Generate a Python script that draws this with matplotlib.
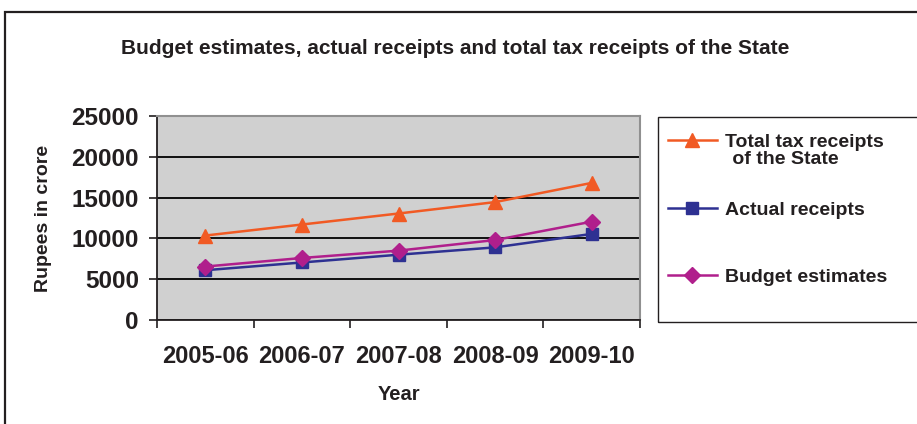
import matplotlib
matplotlib.use("Agg")
import matplotlib.pyplot as plt
from matplotlib.patches import Rectangle

years = ["2005-06", "2006-07", "2007-08", "2008-09", "2009-10"]
total_tax = [10350, 11700, 13050, 14450, 16800]
actual = [6100, 7050, 8000, 8900, 10550]
budget = [6550, 7600, 8500, 9800, 12050]
yticks = [0, 5000, 10000, 15000, 20000, 25000]

plt.rcParams['font.family'] = ['Liberation Sans', 'DejaVu Sans']
plt.rcParams['font.weight'] = 'bold'

W, H = 917, 424
fig = plt.figure(figsize=(W/100, H/100), dpi=100)

# outer frame (cut off right/bottom)
fig.add_artist(Rectangle((5/W, -0.1), 2, 1.1 - 12/H, transform=fig.transFigure,
                         fill=False, edgecolor='#231F20', linewidth=1.6))

ax = fig.add_axes([157/W, 1-320/H, (640-157)/W, (320-116)/H])
ax.set_facecolor('#D0D0D0')
x = list(range(len(years)))
c_tax, c_act, c_bud = '#F15A24', '#2E3192', '#B01F8C'
l1, = ax.plot(x, total_tax, color=c_tax, marker='^', markersize=10, linewidth=1.8, label='Total tax receipts')
l2, = ax.plot(x, actual, color=c_act, marker='s', markersize=9, linewidth=1.8, label='Actual receipts')
l3, = ax.plot(x, budget, color=c_bud, marker='D', markersize=8, linewidth=1.8, label='Budget estimates')

ax.set_xlim(-0.5, len(years)-0.5)
ax.set_ylim(0, 25000)
ax.set_yticks(yticks)
ax.set_yticklabels([str(v) for v in yticks], fontsize=17.5, fontweight='bold', color='#231F20')
ax.yaxis.grid(True, color='black', linewidth=1.3)
ax.set_axisbelow(True)
ax.set_xticks([i - 0.5 for i in range(len(years)+1)], minor=False)
ax.set_xticklabels([])
ax.set_xticks(x, minor=True)
ax.set_xticklabels(years, minor=True, fontsize=17, fontweight='bold', color='#231F20')
ax.tick_params(axis='x', which='minor', length=0, pad=18)
ax.tick_params(axis='x', which='major', length=6, width=1.2, direction='out', color='#231F20')
ax.tick_params(axis='y', length=6, width=1.2, direction='out', color='#231F20', pad=7)
for s in ['top', 'right']:
    ax.spines[s].set_color('#909090')
    ax.spines[s].set_linewidth(1.5)
for s in ['left', 'bottom']:
    ax.spines[s].set_color('#231F20')
    ax.spines[s].set_linewidth(1.3)

ax.set_xlabel('Year', fontsize=14.5, fontweight='bold', labelpad=12, color='#231F20')
ax.set_ylabel('Rupees in crore', fontsize=14, fontweight='bold', labelpad=14, color='#231F20')

fig.text(455/W, 1-48/H, 'Budget estimates, actual receipts and total tax receipts of the State',
         ha='center', va='center', fontsize=15, fontweight='bold', color='#231F20')

# legend frame
fig.add_artist(Rectangle((658/W, 1-322/H), 0.5, (322-117)/H, transform=fig.transFigure,
                         fill=False, edgecolor='#231F20', linewidth=1.0))
leg = fig.legend(handles=[l1, l2, l3], loc='upper left', bbox_to_anchor=(650/W, 1-116/H),
                 frameon=False, handlelength=2.55, handletextpad=0.4,
                 labelspacing=2.57, prop={'weight': 'bold', 'size': 14})
for t in leg.get_texts():
    t.set_color('#231F20')

fig.canvas.draw()
bb = leg.get_texts()[0].get_window_extent()
x0, y0 = fig.transFigure.inverted().transform((bb.x0, bb.y0))
fig.text(x0 + 2/W, y0, ' of the State', ha='left', va='top', fontsize=14,
         fontweight='bold', color='#231F20')

fig.savefig('out.png', dpi=100)
